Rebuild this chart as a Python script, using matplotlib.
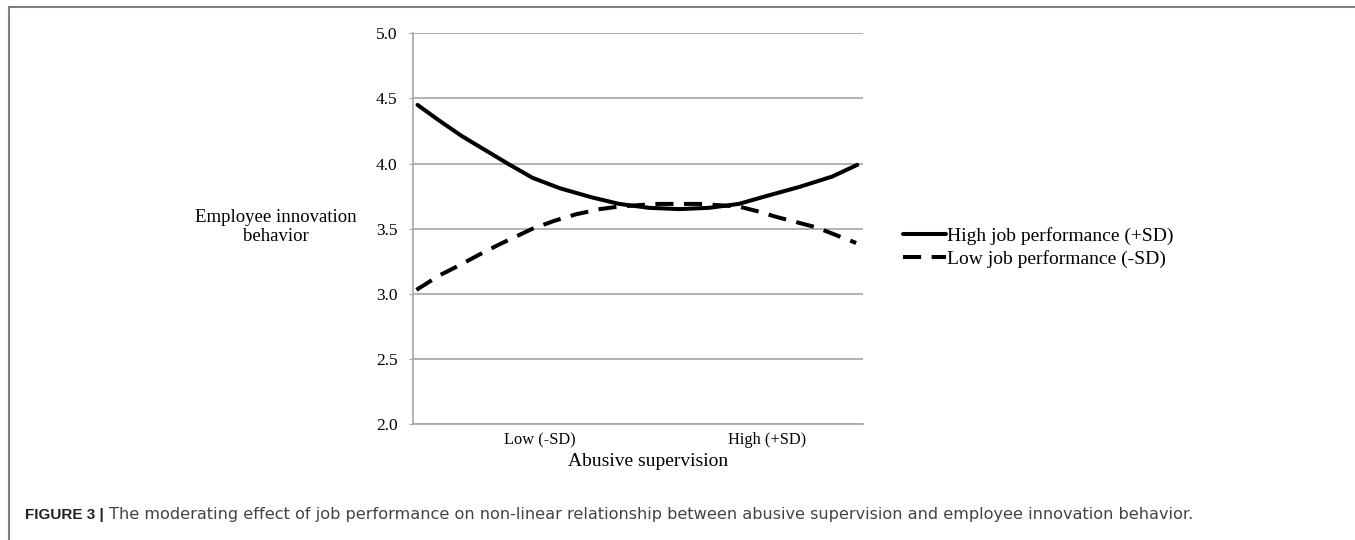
import matplotlib.pyplot as plt
from matplotlib.lines import Line2D

# abusive supervision, scaled so that Low (-SD) = -1 and High (+SD) = +1
x_high = [-2.07, -1.88, -1.68, -1.47, -1.28, -1.06, -0.82, -0.54, -0.30, -0.04,
          0.23, 0.49, 0.75, 0.99, 1.28, 1.57, 1.79]
y_high = [4.45, 4.33, 4.21, 4.10, 4.00, 3.89, 3.81, 3.74, 3.69, 3.66,
          3.65, 3.66, 3.69, 3.75, 3.82, 3.90, 3.99]

x_low = [-2.08, -1.88, -1.70, -1.53, -1.35, -1.06, -0.87, -0.68, -0.47, -0.30,
         0.03, 0.40, 0.75, 0.93, 1.08, 1.43, 1.78]
y_low = [3.03, 3.14, 3.22, 3.30, 3.38, 3.50, 3.56, 3.61, 3.65, 3.67,
         3.69, 3.69, 3.67, 3.63, 3.59, 3.51, 3.39]

x_ticks = [-1, 1]
x_ticklabels = ['Low (-SD)', 'High (+SD)']
y_ticks = [2.0, 2.5, 3.0, 3.5, 4.0, 4.5, 5.0]
series_labels = ['High job performance (+SD)', 'Low job performance (-SD)']

serif = 'Liberation Serif'
grey = '#a6a6a6'

fig = plt.figure(figsize=(13.55, 5.4), dpi=100)
ax = fig.add_axes([413 / 1355, 116 / 540, 450 / 1355, 390.7 / 540])

ax.plot(x_high, y_high, color='black', lw=2.9, solid_capstyle='round',
        label=series_labels[0])
ax.plot(x_low, y_low, color='black', lw=2.9, linestyle=(0, (4.5, 2.6)),
        label=series_labels[1])

ax.set_xlim(-2.11, 1.84)
ax.set_ylim(2.0, 5.0)
ax.set_yticks(y_ticks)
ax.set_yticklabels(['%.1f' % v for v in y_ticks], fontfamily=serif, fontsize=12.5)
ax.set_xticks(x_ticks)
ax.set_xticklabels(x_ticklabels, fontfamily=serif, fontsize=11.8)

ax.grid(axis='y', color=grey, lw=1.2)
ax.set_axisbelow(True)
for s in ['top', 'right']:
    ax.spines[s].set_visible(False)
for s in ['left', 'bottom']:
    ax.spines[s].set_color(grey)
    ax.spines[s].set_linewidth(1.2)
ax.tick_params(axis='y', length=3, color=grey, pad=8)
ax.tick_params(axis='x', length=0, pad=6)

ax.set_xlabel('Abusive supervision', fontfamily=serif, fontsize=14)
ax.xaxis.set_label_coords(0.522, -0.097)
ax.xaxis.label.set_verticalalignment('center')

ax.set_ylabel('Employee innovation\nbehavior', fontfamily=serif, fontsize=13.5,
              rotation=0, ha='center', va='center', linespacing=1.15)
ax.yaxis.set_label_coords(-0.304, 0.505)

leg = ax.legend(loc='center left', bbox_to_anchor=(903 / 1355, 1 - 247.5 / 540),
                bbox_transform=fig.transFigure, frameon=False, borderpad=0,
                borderaxespad=0, handlelength=2.2, handletextpad=0.05,
                labelspacing=0.3, prop={'family': serif, 'size': 14})

# frame around the figure panel (top and left edges only visible)
fig.add_artist(Line2D([9 / 1355, 1], [1 - 7 / 540, 1 - 7 / 540],
                      transform=fig.transFigure, color='#7f7f7f', lw=1.5))
fig.add_artist(Line2D([9 / 1355, 9 / 1355], [0, 1 - 7 / 540],
                      transform=fig.transFigure, color='#7f7f7f', lw=1.5))

cap = fig.text(25 / 1355, 1 - 515 / 540, 'FIGURE 3 |', fontfamily='Liberation Sans',
               fontsize=11, fontweight='bold', color='#222222', va='center')
ax.annotate('The moderating effect of job performance on non-linear relationship '
            'between abusive supervision and employee innovation behavior.',
            xy=(1, 0.5), xycoords=cap, xytext=(4, 0), textcoords='offset points',
            va='center', fontfamily='DejaVu Sans', fontsize=11.6, color='#444444')

fig.savefig('out.png', dpi=100)
